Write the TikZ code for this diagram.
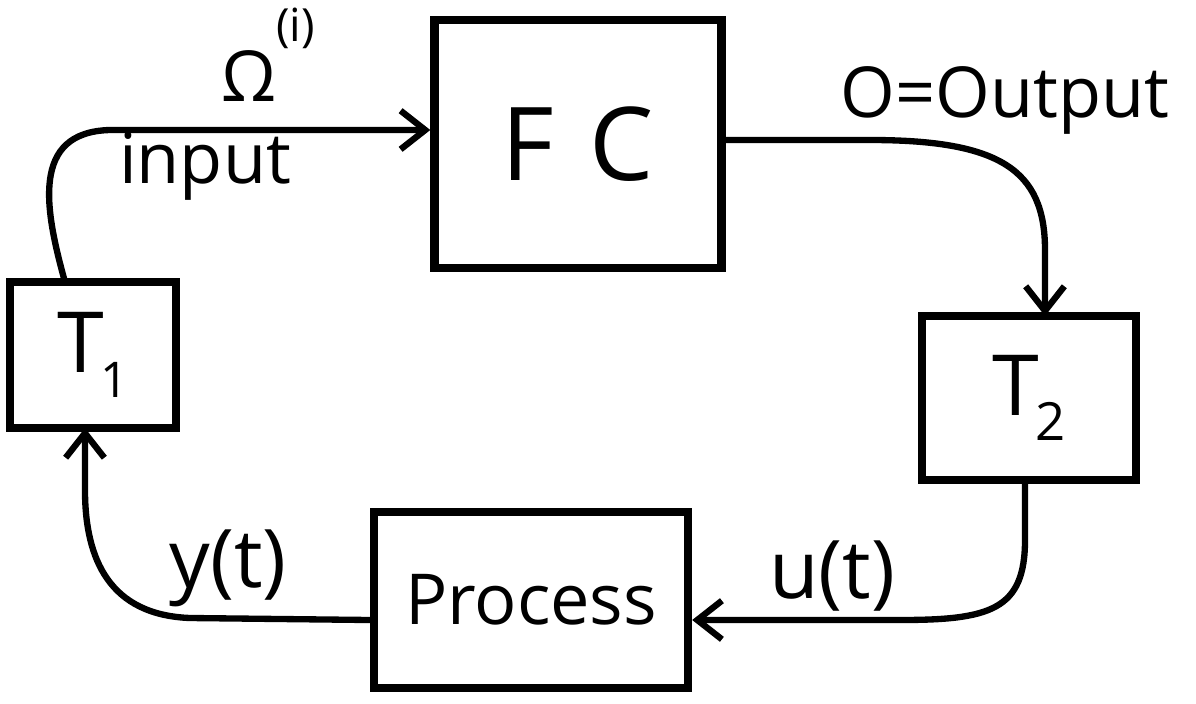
\documentclass[tikz,border=0pt]{standalone}
\usepackage{fontspec}
\setmainfont{Open Sans}
\usetikzlibrary{arrows.meta}
\begin{document}
\begin{tikzpicture}[x=0.02cm,y=-0.02cm,
  blk/.style={draw, line width=4.8pt, inner sep=0pt},
  flow/.style={line width=3.6pt, line cap=round, line join=round,
    -{Straight Barb[length=14pt,width=22pt,line width=3.6pt]}},
  lbl/.style={inner sep=0pt, font=\fontsize{40}{44}\selectfont},
  sig/.style={inner sep=0pt, font=\fontsize{46}{50}\selectfont}]
\useasboundingbox (0,0) rectangle (1196,703);

% blocks of the loop
\node[blk, minimum width=5.74cm, minimum height=4.96cm] (fc) at (578,144)
  {\fontsize{58}{60}\selectfont F\hspace{0.35em}C};
\node[blk, minimum width=3.32cm, minimum height=2.92cm] (t1) at (93,355)
  {\fontsize{48}{50}\selectfont T\kern-0.05em\raisebox{-0.3em}{\fontsize{28}{30}\selectfont 1}};
\node[blk, minimum width=4.28cm, minimum height=3.28cm] (t2) at (1029,398)
  {\fontsize{48}{50}\selectfont T\kern-0.05em\raisebox{-0.3em}{\fontsize{30}{32}\selectfont 2}};
\node[blk, minimum width=6.28cm, minimum height=3.52cm] (proc) at (531,600)
  {\fontsize{40}{44}\selectfont Process};

% connector end points
\coordinate (a0) at (65,282);
\coordinate (b1) at (1045,316);
\coordinate (c0) at (1025,480);
\coordinate (d1) at (85,428);

% signals around the loop
\draw[flow] (a0) .. controls (45,210) and (30,132) .. (110,130)
  -- (fc.west |- 0,130);
\draw[flow] (fc.east |- 0,140) -- (870,140) .. controls (1000,140) and (1045,170)
  .. (1045,250) -- (b1);
\draw[flow] (c0) -- (1025,540) .. controls (1025,610) and (990,620) .. (900,620)
  -- (proc.east |- 0,620);
\draw[flow] (proc.west |- 0,620) -- (190,618) .. controls (110,615) and (85,560)
  .. (85,490) -- (d1);

% labels
\node[lbl] (om) at (268,55) {Ω\raisebox{0.85em}{\fontsize{26}{28}\selectfont (i)}};
\node[lbl] (inp) at (205,166) {input};
\node[lbl] (out) at (1005,100) {O=Output};
\node[sig] (ut) at (832,576) {u(t)};
\node[sig] (yt) at (228,568) {y(t)};
\end{tikzpicture}
\end{document}
